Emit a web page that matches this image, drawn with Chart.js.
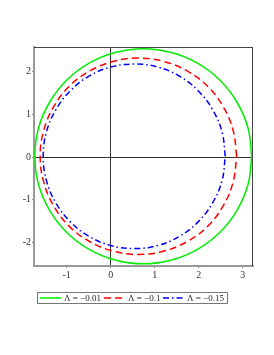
<!DOCTYPE html>
<html><head><meta charset="utf-8">
<script src="https://cdn.jsdelivr.net/npm/chart.js@4/dist/chart.umd.min.js"></script>
<style>html,body{margin:0;padding:0;background:#fff;}canvas{display:block;}</style>
</head><body>
<canvas id="c" width="274" height="355"></canvas>
<script>
const seriesLabels = ["Λ = −0.01", "Λ = −0.1", "Λ = −0.15"];
const greenX = [3.20,3.12,2.87,2.48,1.97,1.38,0.74,0.10,-0.49,-1.00,-1.39,-1.64,-1.72,-1.64,-1.39,-1.00,-0.49,0.10,0.74,1.38,1.97,2.48,2.87,3.12,3.20];
const greenY = [0.02,0.67,1.28,1.80,2.20,2.45,2.54,2.45,2.20,1.80,1.28,0.67,0.02,-0.63,-1.24,-1.76,-2.16,-2.41,-2.50,-2.41,-2.16,-1.76,-1.24,-0.63,0.02];
const redX = [2.86,2.78,2.56,2.21,1.75,1.21,0.63,0.05,-0.49,-0.95,-1.30,-1.52,-1.60,-1.52,-1.30,-0.95,-0.49,0.05,0.63,1.21,1.75,2.21,2.56,2.78,2.86];
const redY = [0.02,0.62,1.17,1.65,2.01,2.24,2.32,2.24,2.01,1.65,1.17,0.62,0.02,-0.58,-1.13,-1.61,-1.97,-2.20,-2.28,-2.20,-1.97,-1.61,-1.13,-0.58,0.02];
const blueX = [2.60,2.53,2.32,1.99,1.57,1.07,0.54,0.00,-0.50,-0.92,-1.25,-1.46,-1.53,-1.46,-1.25,-0.92,-0.50,0.00,0.54,1.07,1.57,1.99,2.32,2.53,2.60];
const blueY = [0.02,0.58,1.10,1.55,1.89,2.11,2.18,2.11,1.89,1.55,1.10,0.58,0.02,-0.54,-1.06,-1.51,-1.85,-2.07,-2.14,-2.07,-1.85,-1.51,-1.06,-0.54,0.02];
const xTicks = [-1, 0, 1, 2, 3];
const yTicks = [-2, -1, 0, 1, 2];

function pts(xs, ys){ return xs.map((x,i)=>({x:x, y:ys[i]})); }

const frameAndLegend = {
  id: 'frameAndLegend',
  afterDraw(chart){
    const ctx = chart.ctx, a = chart.chartArea;
    ctx.save();
    ctx.strokeStyle = '#444'; ctx.lineWidth = 1;
    ctx.beginPath();
    ctx.moveTo(a.left, a.top + 0.5); ctx.lineTo(a.right, a.top + 0.5);
    ctx.moveTo(a.right - 0.5, a.top); ctx.lineTo(a.right - 0.5, a.bottom);
    ctx.stroke();
    // legend
    const bx = 37.5, by = 292.5, bw = 190, bh = 11;
    ctx.strokeStyle = '#777'; ctx.lineWidth = 1;
    ctx.strokeRect(bx, by, bw, bh);
    const starts = [40, 104, 163];
    ctx.font = '9px "Liberation Serif"';
    ctx.textBaseline = 'middle';
    chart.data.datasets.forEach((ds, i) => {
      const sx = starts[i], cy = by + bh/2;
      ctx.strokeStyle = ds.borderColor; ctx.lineWidth = 1.5;
      ctx.setLineDash(ds.borderDash || []);
      ctx.beginPath(); ctx.moveTo(sx, cy); ctx.lineTo(sx + 21, cy); ctx.stroke();
      ctx.setLineDash([]);
      ctx.fillStyle = '#222';
      ctx.fillText(ds.label, sx + 24, cy + 0.5);
    });
    ctx.restore();
  }
};

const zeroColor = (c) => (c.tick && c.tick.value === 0) ? '#333' : 'rgba(0,0,0,0)';

new Chart(document.getElementById('c'), {
  type: 'scatter',
  data: {
    datasets: [
      {label: seriesLabels[0], data: pts(greenX, greenY), borderColor: '#00ee00', borderWidth: 1.5, showLine: true, pointRadius: 0, tension: 0.4, fill: false},
      {label: seriesLabels[1], data: pts(redX, redY), borderColor: '#ff0000', borderWidth: 1.5, borderDash: [7, 4], showLine: true, pointRadius: 0, tension: 0.4, fill: false},
      {label: seriesLabels[2], data: pts(blueX, blueY), borderColor: '#0000ff', borderWidth: 1.5, borderDash: [6, 3, 1.5, 3], showLine: true, pointRadius: 0, tension: 0.4, fill: false}
    ]
  },
  options: {
    responsive: false, animation: false,
    layout: {padding: {top: 47, left: 10, right: 21, bottom: 75}},
    plugins: {legend: {display: false}, tooltip: {enabled: false}},
    scales: {
      x: {
        type: 'linear', min: -1.74, max: 3.23,
        afterBuildTicks: (s) => { s.ticks = xTicks.map(v => ({value: v})); },
        afterFit: (s) => { s.height = 14; },
        border: {color: '#999', width: 2},
        grid: {color: zeroColor, lineWidth: 1, drawTicks: true, tickLength: 2, tickColor: '#888'},
        ticks: {font: {family: '"Liberation Serif"', size: 10}, color: '#333', padding: 1, maxRotation: 0}
      },
      y: {
        type: 'linear', min: -2.55, max: 2.58,
        afterBuildTicks: (s) => { s.ticks = yTicks.map(v => ({value: v})); },
        afterFit: (s) => { s.width = 24; },
        border: {color: '#999', width: 2},
        grid: {color: zeroColor, lineWidth: 1, drawTicks: true, tickLength: 2, tickColor: '#888'},
        ticks: {font: {family: '"Liberation Serif"', size: 10}, color: '#333', padding: 1}
      }
    }
  },
  plugins: [frameAndLegend]
});
</script>
</body></html>
